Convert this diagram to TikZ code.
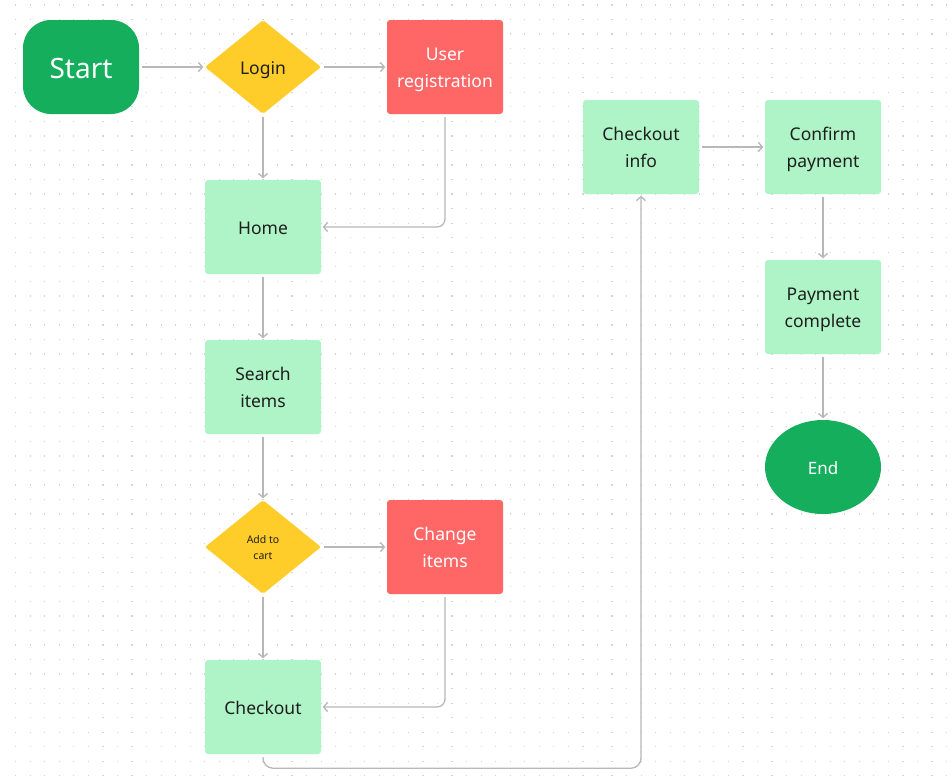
\documentclass[tikz,border=0pt]{standalone}
\usepackage{fontspec}
\setmainfont{Noto Sans}
\usetikzlibrary{shapes.geometric,arrows.meta}
\definecolor{fgreen}{HTML}{14AE5C}
\definecolor{fyellow}{HTML}{FFCD29}
\definecolor{fred}{HTML}{FF6666}
\definecolor{flight}{HTML}{AFF4C6}
\definecolor{linec}{HTML}{B8B8B8}
\definecolor{dotc}{HTML}{D4D4D4}
\definecolor{txt}{HTML}{1E1E1E}
\newcommand\mytop{\rule{0pt}{1.08em}}
\newcommand\mybot{\rule[-0.25em]{0pt}{0pt}}
\tikzset{
  boxbase/.style={rectangle, rounded corners=3pt, minimum width=116pt, minimum height=94pt, inner sep=0pt, align=center, font=\fontsize{17.5}{27}\selectfont},
  greenbox/.style={boxbase, fill=flight, text=txt},
  redbox/.style={boxbase, fill=fred, text=white},
  startbox/.style={rectangle, rounded corners=28pt, fill=fgreen, text=white, minimum width=116pt, minimum height=94pt, inner sep=0pt, font=\fontsize{28}{34}\selectfont},
  decision/.style={diamond, rounded corners=2pt, fill=fyellow, text=txt, minimum width=116pt, minimum height=94pt, inner sep=0pt, align=center, font=\fontsize{17.5}{27}\selectfont},
  endnode/.style={ellipse, fill=fgreen, text=white, minimum width=116pt, minimum height=94pt, inner sep=0pt, font=\fontsize{17}{20}\selectfont},
  conn/.style={draw=linec, line width=1.3pt, -{Straight Barb[length=4pt,width=9pt]}, shorten >=1.5pt, shorten <=3pt},
}
\begin{document}
\begin{tikzpicture}[x=1pt,y=-1pt]
\useasboundingbox (0,0) rectangle (952,782);
\fill[white] (0,0) rectangle (952,782);
\foreach \i in {0,...,64}{
  \foreach \j in {0,...,53}{
    \fill[dotc] ({15.1+14.545*\i},{4.4+14.545*\j}) rectangle +(1.2,1.2);
  }
}
\node[startbox] (start) at (81,67) {\mytop Start\mybot};
\node[decision] (login) at (263,67) {\mytop Login\mybot};
\node[redbox] (reg) at (445,67) {\mytop User\\registration\mybot};
\node[greenbox] (home) at (263,227) {\mytop Home\mybot};
\node[greenbox] (search) at (263,387) {\mytop Search\\items\mybot};
\node[decision, font=\fontsize{10.5}{16}\selectfont] (cart) at (263,547) {\mytop Add to\\cart\mybot};
\node[redbox] (change) at (445,547) {\mytop Change\\items\mybot};
\node[greenbox] (checkout) at (263,707) {\mytop Checkout\mybot};
\node[greenbox] (info) at (641,147) {\mytop Checkout\\info\mybot};
\node[greenbox] (confirm) at (823,147) {\mytop Confirm\\payment\mybot};
\node[greenbox] (paid) at (823,307) {\mytop Payment\\complete\mybot};
\node[endnode] (end) at (823,467) {\mytop End\mybot};

\draw[conn] (start) -- (login);
\draw[conn] (login) -- (reg);
\draw[conn] (login) -- (home);
\draw[conn, rounded corners=8pt] (reg.south) |- (home.east);
\draw[conn] (home) -- (search);
\draw[conn] (search) -- (cart);
\draw[conn] (cart) -- (change);
\draw[conn] (cart) -- (checkout);
\draw[conn, rounded corners=8pt] (change.south) |- (checkout.east);
\draw[conn, rounded corners=10pt] (checkout.south) -- ++(0,14) -| (info.south);
\draw[conn] (info) -- (confirm);
\draw[conn] (confirm) -- (paid);
\draw[conn] (paid) -- (end);
\end{tikzpicture}
\end{document}
